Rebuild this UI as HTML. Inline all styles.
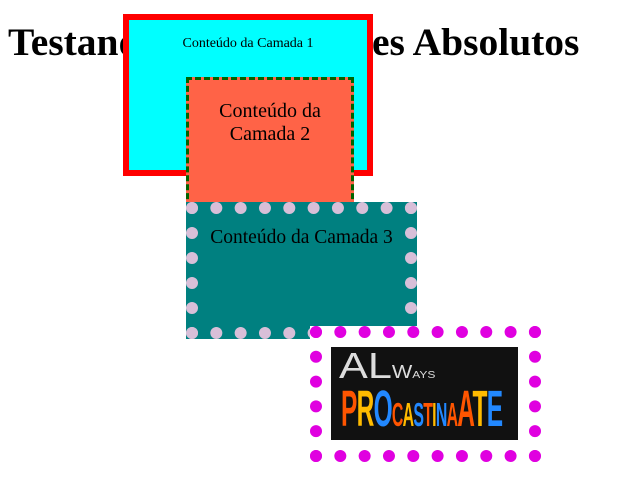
<!DOCTYPE html>
<html><head><meta charset="utf-8"><style>
body{margin:0;width:642px;height:501px;position:relative;background:#fff;font-family:"Liberation Serif",serif;overflow:hidden}
h1{position:absolute;top:19px;margin:0;font-size:39.5px;font-weight:bold;white-space:nowrap}
.b{position:absolute;box-sizing:border-box;text-align:center}
#l1{left:123px;top:14px;width:250px;height:162px;background:#0ff;border:6px solid red;font-size:14px;padding-top:16px}
#l2{left:186px;top:77px;width:168px;height:140px;background:tomato;border:3px dashed #006400;font-size:20px;line-height:23px;padding:20px 6px 0}
#l3{left:186px;top:202px;width:231px;height:137px;background:teal;border:12px dotted thistle;font-size:19.5px;padding-top:13px;white-space:nowrap}
#l4{left:310px;top:326px;width:231px;height:136px;background:#fff;border:12px dotted #e000e0}
#img{position:absolute;left:331px;top:347px;width:187px;height:93px;background:#111;overflow:hidden;font-family:"Liberation Sans",sans-serif;font-weight:bold}
.s{position:absolute;white-space:nowrap;transform-origin:left top}
</style></head><body>
<h1 style="left:8px">Testando</h1>
<h1 style="left:372px">es Absolutos</h1>
<div class="b" id="l1">Conteúdo da Camada 1</div>
<div class="b" id="l2">Conteúdo da Camada 2</div>
<div class="b" id="l3">Conteúdo da Camada 3</div>
<div class="b" id="l4"></div>
<div id="img">
<span class="s" style="left:8px;top:-2px;font-size:36px;color:#ddd;font-weight:normal;transform:scale(1.2,1)">AL<span style="font-size:18px">W</span><span style="font-size:10px">AYS</span></span>
<span class="s" style="left:10px;top:34px;font-size:34px;transform:scale(0.72,1.5);letter-spacing:-1px"><span style="color:#f50">P</span><span style="color:#fb0">R</span><span style="color:#28f">O</span><span style="color:#f50;font-size:22px">C</span><span style="color:#fb0;font-size:22px">A</span><span style="color:#28f;font-size:22px">S</span><span style="color:#f50;font-size:22px">T</span><span style="color:#fb0;font-size:22px">I</span><span style="color:#28f;font-size:22px">N</span><span style="color:#f50;font-size:22px">A</span><span style="color:#f50">A</span><span style="color:#fb0">T</span><span style="color:#28f">E</span></span>
</div>
</body></html>
